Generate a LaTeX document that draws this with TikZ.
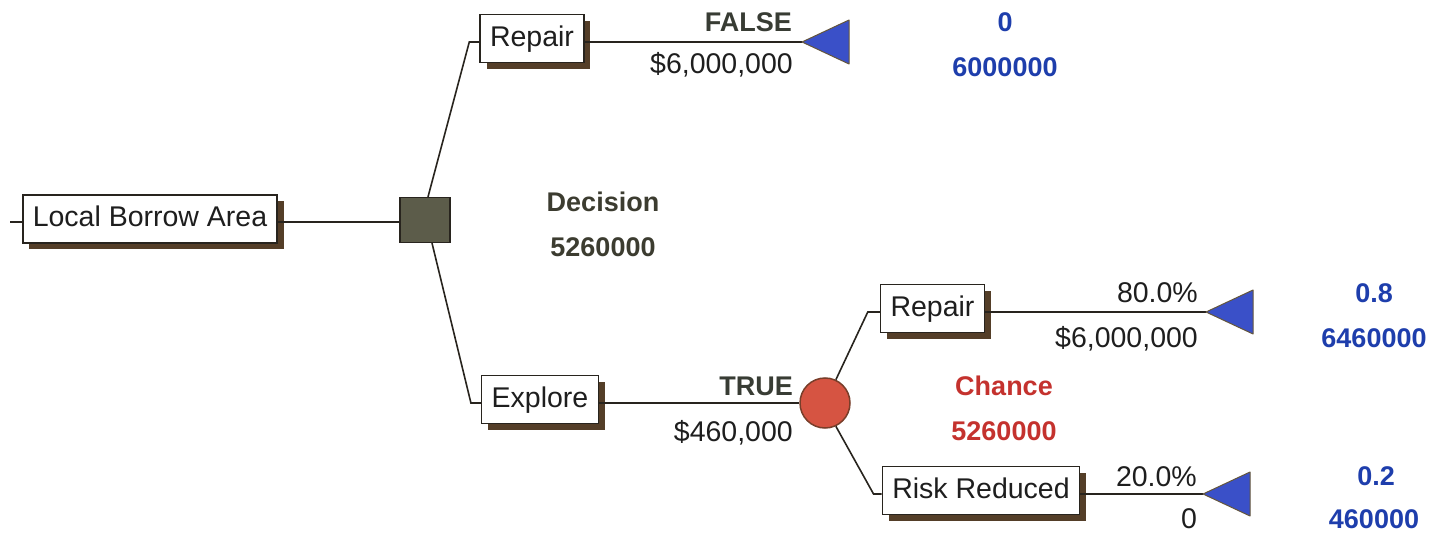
\documentclass[tikz,border=0pt]{standalone}
\usepackage{fontspec}
\setmainfont{Liberation Sans}
\usetikzlibrary{shadows}
\definecolor{edge}{RGB}{40,36,30}
\definecolor{shadowbrown}{RGB}{84,62,40}
\definecolor{decfill}{RGB}{92,92,74}
\definecolor{chfill}{RGB}{214,84,66}
\definecolor{chdraw}{RGB}{120,62,42}
\definecolor{trifill}{RGB}{58,80,200}
\definecolor{tridraw}{RGB}{100,86,60}
\definecolor{valblue}{RGB}{30,62,172}
\definecolor{chred}{RGB}{196,50,46}
\definecolor{decgray}{RGB}{60,60,48}
\definecolor{tfgray}{RGB}{56,60,52}
\definecolor{txt}{RGB}{30,30,30}
\begin{document}
\begin{tikzpicture}[x=1pt,y=-1pt,
  box/.style={draw=edge, line width=1.5pt, fill=white, inner xsep=10pt, inner ysep=0pt,
    minimum height=48pt, text height=20.5pt, text depth=5pt, text=txt,
    font=\fontsize{28.5}{34}\selectfont,
    drop shadow={shadow xshift=6.5pt, shadow yshift=-6.5pt, fill=shadowbrown, opacity=1}},
  conn/.style={draw=edge, line width=1.6pt},
  tri/.style={fill=trifill, draw=tridraw, line width=1pt, line join=round},
  lbl/.style={inner sep=0pt, text=txt, font=\fontsize{28.5}{34}\selectfont},
  val/.style={inner sep=0pt, font=\fontsize{27}{32}\selectfont\bfseries},
]
\useasboundingbox (0,0) rectangle (1439,534);

% nodes
\node[box] (lba) at (150,219) {Local Borrow Area};
\node[draw=edge, line width=1.2pt, fill=decfill, minimum width=50pt, minimum height=45pt, inner sep=0pt] (dec) at (425,220) {};
\node[box] (rep1) at (532,38.5) {Repair};
\node[box] (exp) at (540,399.5) {Explore};
\node[circle, draw=chdraw, line width=1.5pt, fill=chfill, minimum size=50pt, inner sep=0pt] (ch) at (825,403) {};
\node[box] (rep2) at (932.5,308.5) {Repair};
\node[box] (risk) at (981,490.5) {Risk Reduced};

% terminal triangles
\coordinate (t1) at (802,42);
\coordinate (t2) at (1206,312);
\coordinate (t3) at (1203,494);
\coordinate (in0) at (10,222);

% connectors
\draw[conn] (in0) -- ([yshift=-3pt]lba.west);
\draw[conn] ([yshift=-3pt]lba.east) -- ([yshift=-3pt]lba.east -| dec.west);
\draw[conn] ([xshift=3pt]dec.north) -- ([xshift=-10pt,yshift=-3.5pt]rep1.west) -- ([yshift=-3.5pt]rep1.west);
\draw[conn] ([xshift=7pt]dec.south) -- ([xshift=-10pt,yshift=-3.5pt]exp.west) -- ([yshift=-3.5pt]exp.west);
\draw[conn] ([yshift=-3.5pt]rep1.east) -- (t1);
\draw[conn] ([yshift=-3.5pt]exp.east) -- (ch.west);
\draw[conn] (ch.65) -- ([xshift=-12pt,yshift=-3.5pt]rep2.west) -- ([yshift=-3.5pt]rep2.west);
\draw[conn] (ch.-65) -- ([xshift=-8pt,yshift=-3.5pt]risk.west) -- ([yshift=-3.5pt]risk.west);
\draw[conn] ([yshift=-3.5pt]rep2.east) -- (t2);
\draw[conn] ([yshift=-3.5pt]risk.east) -- (t3);

\draw[tri] (t1) -- ++(47,-22) -- ++(0,44) -- cycle;
\draw[tri] (t2) -- ++(47,-22) -- ++(0,44) -- cycle;
\draw[tri] (t3) -- ++(47,-22) -- ++(0,44) -- cycle;

% branch labels
\node[val, text=tfgray, anchor=base east] (lf) at (792,32) {FALSE};
\node[lbl, anchor=base east] (lc1) at (793,74) {\$6,000,000};
\node[val, text=tfgray, anchor=base east] (lt) at (793,395) {TRUE};
\node[lbl, anchor=base east] (lc2) at (793,441) {\$460,000};
\node[lbl, anchor=base east] (lp1) at (1198,303) {80.0\%};
\node[lbl, anchor=base east] (lc3) at (1198,347) {\$6,000,000};
\node[lbl, anchor=base east] (lp2) at (1197,486) {20.0\%};
\node[lbl, anchor=base] (lc4) at (1189,528) {0};

% node values
\node[val, text=decgray, anchor=base] (dn) at (603,212) {Decision};
\node[val, text=decgray, anchor=base] (dv) at (603,257) {5260000};
\node[val, text=chred, anchor=base] (cn) at (1004,395) {Chance};
\node[val, text=chred, anchor=base] (cv) at (1004,440) {5260000};

% terminal values
\node[val, text=valblue, anchor=base] (v1a) at (1005,32) {0};
\node[val, text=valblue, anchor=base] (v1b) at (1005,77) {6000000};
\node[val, text=valblue, anchor=base] (v2a) at (1374,303) {0.8};
\node[val, text=valblue, anchor=base] (v2b) at (1374,347) {6460000};
\node[val, text=valblue, anchor=base] (v3a) at (1376,485) {0.2};
\node[val, text=valblue, anchor=base] (v3b) at (1374,528) {460000};
\end{tikzpicture}
\end{document}
